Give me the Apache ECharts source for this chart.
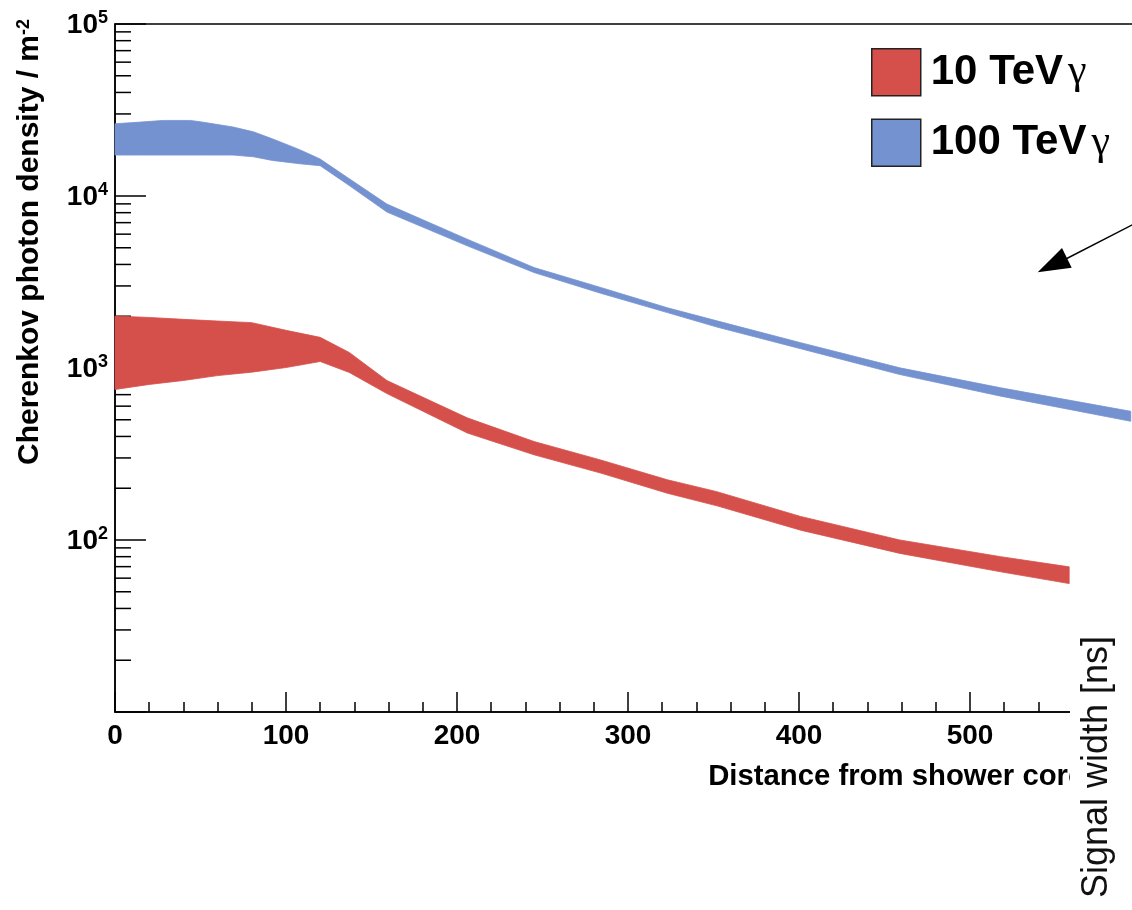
<!DOCTYPE html>
<html><head><meta charset="utf-8">
<script src="https://cdn.jsdelivr.net/npm/echarts@6/dist/echarts.min.js"></script>
<style>html,body{margin:0;padding:0;background:#fff}#c{width:1132px;height:910px}</style>
</head><body><div id="c"></div>
<script>
// ---- data ----
const dist10  = [0, 20, 40, 60, 80, 100, 120, 137, 159, 206, 245, 284, 323, 352, 401, 459, 518, 558];
const upper10 = [2004, 1968, 1918, 1875, 1835, 1656, 1507, 1231, 846, 513, 374, 292, 224, 191, 137, 100, 80, 69.8];
const lower10 = [750, 802, 846, 903, 946, 1006, 1091, 942, 710, 419, 313, 245, 187, 158, 114, 83.6, 65.3, 55.8];

const dist100  = [0, 15, 28, 44, 50, 69, 81, 92, 108, 120, 137, 159, 206, 245, 284, 323, 352, 401, 459, 518, 594];
const upper100 = [26300, 26900, 27500, 27500, 27000, 25200, 23600, 21500, 18600, 16400, 12600, 8980, 5610, 3840, 2940, 2240, 1880, 1403, 1002, 767, 560];
const lower100 = [17300, 17300, 17300, 17300, 17300, 17300, 16900, 16100, 15400, 15000, 11500, 8070, 5130, 3590, 2720, 2100, 1730, 1294, 916, 686, 490];

const seriesNames = ['10 TeV γ', '100 TeV γ'];
const yMinorTicks = [20,30,40,50,60,70,80,90, 200,300,400,500,600,700,800,900,
  2000,3000,4000,5000,6000,7000,8000,9000, 20000,30000,40000,50000,60000,70000,80000,90000];
const xTitle = 'Distance from shower core [m]';
const yTitle = 'Cherenkov photon density / m{s|-2}';
const sideTitle = 'Signal width [ns]';

// ---- styles ----
const F = "'Liberation Sans', Arial, Helvetica, sans-serif";
const RED = '#d6504b';
const BLUE = '#7592d0';

const chart = echarts.init(document.getElementById('c'), null, {renderer: 'canvas'});

function bandSeries(name, dist, lower, upper, color) {
  return {
    type: 'custom', name: name, silent: true, z: 2, clip: false,
    color: color, itemStyle: {color: color},
    data: dist.map((d, i) => [d, lower[i], upper[i]]),
    encode: {x: 0, y: [1, 2]},
    renderItem: (params, api) => {
      if (params.dataIndex !== 0) return null;
      const pts = [];
      for (let i = 0; i < dist.length; i++) pts.push(api.coord([dist[i], upper[i]]));
      for (let i = dist.length - 1; i >= 0; i--) pts.push(api.coord([dist[i], lower[i]]));
      return {type: 'polygon', shape: {points: pts},
              style: {fill: color, stroke: color, lineWidth: 0.8}};
    }
  };
}

const option = {
  backgroundColor: '#fff',
  animation: false,
  grid: {left: 115, top: 24, width: 1026, height: 688, containLabel: false, outerBoundsMode: 'none',
         show: true, borderColor: '#000', borderWidth: 1.5, backgroundColor: 'transparent'},
  legend: {
    data: seriesNames,
    orient: 'vertical',
    left: 871, top: 48, padding: 0,
    itemWidth: 49, itemHeight: 47, itemGap: 22,
    icon: 'rect',
    itemStyle: {borderColor: '#222', borderWidth: 1.5},
    selectedMode: false,
    formatter: n => '{b|' + n.replace(' γ', '') + '}{g|γ}',
    textStyle: {
      rich: {
        b: {fontFamily: F, fontWeight: 'bold', fontSize: 42, color: '#000', padding: [0, 0, 0, 5]},
        g: {fontFamily: "'Liberation Serif', 'DejaVu Serif', serif", fontSize: 42, color: '#000', padding: [0, 0, 0, 5]}
      }
    }
  },
  xAxis: {
    type: 'value', min: 0, max: 600, interval: 100,
    axisLine: {show: true, onZero: false, lineStyle: {color: '#000', width: 1.5}},
    axisTick: {show: true, inside: true, length: 20, lineStyle: {color: '#000', width: 1.5}},
    minorTick: {show: true, splitNumber: 5, length: 10, lineStyle: {color: '#000', width: 1.5}},
    splitLine: {show: false},
    axisLabel: {margin: 10, fontFamily: F, fontWeight: 'bold', fontSize: 28, color: '#000'}
  },
  yAxis: {
    type: 'log', logBase: 10, min: 10, max: 100000,
    axisLine: {show: true, onZero: false, lineStyle: {color: '#000', width: 1.5}},
    axisTick: {show: true, inside: true, length: 31, lineStyle: {color: '#000', width: 1.5}},
    splitLine: {show: false},
    axisLabel: {
      margin: 7,
      formatter: v => {
        const e = Math.round(Math.log10(v));
        return e < 2 ? '' : '{m|10}{s|' + e + '}';
      },
      rich: {
        m: {fontFamily: F, fontWeight: 'bold', fontSize: 28, color: '#000', lineHeight: 30, verticalAlign: 'bottom'},
        s: {fontFamily: F, fontWeight: 'bold', fontSize: 18, color: '#000', lineHeight: 20, verticalAlign: 'top'}
      }
    }
  },
  series: [
    {
      type: 'custom', name: 'minor', silent: true, z: 1, clip: false,
      data: yMinorTicks.map(v => [0, v]),
      encode: {x: 0, y: 1},
      renderItem: (params, api) => {
        const p = api.coord([0, api.value(1)]);
        return {type: 'line', shape: {x1: p[0], y1: p[1], x2: p[0] + 16, y2: p[1]},
                style: {stroke: '#000', lineWidth: 1.5}};
      }
    },
    bandSeries(seriesNames[0], dist10, lower10, upper10, RED),
    bandSeries(seriesNames[1], dist100, lower100, upper100, BLUE)
  ],
  graphic: [
    {type: 'text', x: 30, y: 242, rotation: Math.PI / 2, z: 50,
     style: {text: yTitle, align: 'center', verticalAlign: 'middle', textAlign: 'center', textVerticalAlign: 'middle',
       fontFamily: F, fontWeight: 'bold', fontSize: 30, fill: '#000',
       rich: {s: {fontFamily: F, fontWeight: 'bold', fontSize: 18, fill: '#000', verticalAlign: 'top', lineHeight: 18}}}},
    {type: 'text', x: 1138, y: 777, z: 50,
     style: {text: xTitle, align: 'right', verticalAlign: 'middle', textAlign: 'right', textVerticalAlign: 'middle',
       fontFamily: F, fontWeight: 'bold', fontSize: 29.3, fill: '#000'}},
    {type: 'rect', z: 100, shape: {x: 1070, y: 440, width: 70, height: 480}, style: {fill: '#fff'}},
    {type: 'text', x: 1097, y: 767, rotation: Math.PI / 2, z: 101,
     style: {text: sideTitle, align: 'center', verticalAlign: 'middle', textAlign: 'center', textVerticalAlign: 'middle',
       fontFamily: F, fontSize: 36, fill: '#111'}},
    {type: 'line', z: 101, shape: {x1: 1134, y1: 224, x2: 1060, y2: 262}, style: {stroke: '#000', lineWidth: 1.5}},
    {type: 'polygon', z: 101, shape: {points: [[1037.7, 272.3], [1062, 248], [1071.7, 267.7]]}, style: {fill: '#000'}}
  ]
};
chart.setOption(option);
</script>
</body></html>
